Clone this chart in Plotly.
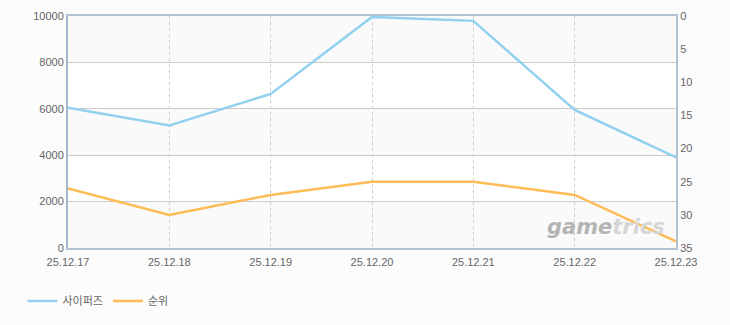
import plotly.graph_objects as go

dates = ["25.12.17", "25.12.18", "25.12.19", "25.12.20", "25.12.21", "25.12.22", "25.12.23"]
cyphers = [6050, 5280, 6640, 9960, 9790, 5950, 3910]
rank = [26, 30, 27, 25, 25, 27, 34]

blue = "#92d0f0"
orange = "#ffbb55"
xs = list(range(len(dates)))
font = "Noto Sans CJK KR, DejaVu Sans, sans-serif"
tickf = dict(family="Liberation Sans, Arial, sans-serif", size=11, color="#666666")

fig = go.Figure()
# alternating bands
for lo, hi in [(0, 2000), (4000, 6000), (8000, 10000)]:
    fig.add_shape(type="rect", xref="paper", yref="y", x0=0, x1=1, y0=lo, y1=hi,
                  fillcolor="#fafafa", line_width=0, layer="below")

fig.add_trace(go.Scatter(x=xs, y=cyphers, name="사이퍼즈", mode="lines",
                         line=dict(color=blue, width=2.5), yaxis="y"))
fig.add_trace(go.Scatter(x=xs, y=rank, name="순위", mode="lines",
                         line=dict(color=orange, width=2.5), yaxis="y2"))

fig.add_annotation(xref="paper", yref="paper", x=0.985, y=0.03, xanchor="right", yanchor="bottom",
                   text="<b><i><span style='color:#b4b4b4'>game</span><span style='color:#d6d6d6'>trics</span></i></b>",
                   showarrow=False, font=dict(size=21, family="DejaVu Sans"))

fig.update_layout(
    width=730, height=325,
    margin=dict(l=68, r=54, t=16, b=77, autoexpand=False),
    paper_bgcolor="#fcfcfc",
    plot_bgcolor="#ffffff",
    font=dict(family=font, size=11, color="#666666"),
    showlegend=True,
    legend=dict(orientation="h", x=-0.075, xanchor="left", y=-0.228, yanchor="middle",
                font=dict(size=11, color="#666666"), bgcolor="rgba(0,0,0,0)",
                itemwidth=30, tracegroupgap=0),
    xaxis=dict(range=[0, 6], tickvals=xs, ticktext=dates, showgrid=True,
               gridcolor="#cccccc", griddash="3px,3px", gridwidth=1,
               showline=True, linecolor="#b0c2d4", linewidth=2, mirror=True,
               zeroline=False, ticks="", ticklabelstandoff=3, tickfont=tickf),
    yaxis=dict(range=[0, 10000], dtick=2000, tickformat="d", showgrid=True,
               gridcolor="#cccccc", gridwidth=1,
               showline=True, linecolor="#a8b8cc", linewidth=2, zeroline=False, ticks="",
               ticklabelstandoff=0, tickfont=tickf),
    yaxis2=dict(range=[35, 0], dtick=5, overlaying="y", side="right", showgrid=False,
                showline=True, linecolor="#b0c2d4", linewidth=2, zeroline=False, ticks="",
                tickfont=tickf),
)

fig.write_html("out.html")
